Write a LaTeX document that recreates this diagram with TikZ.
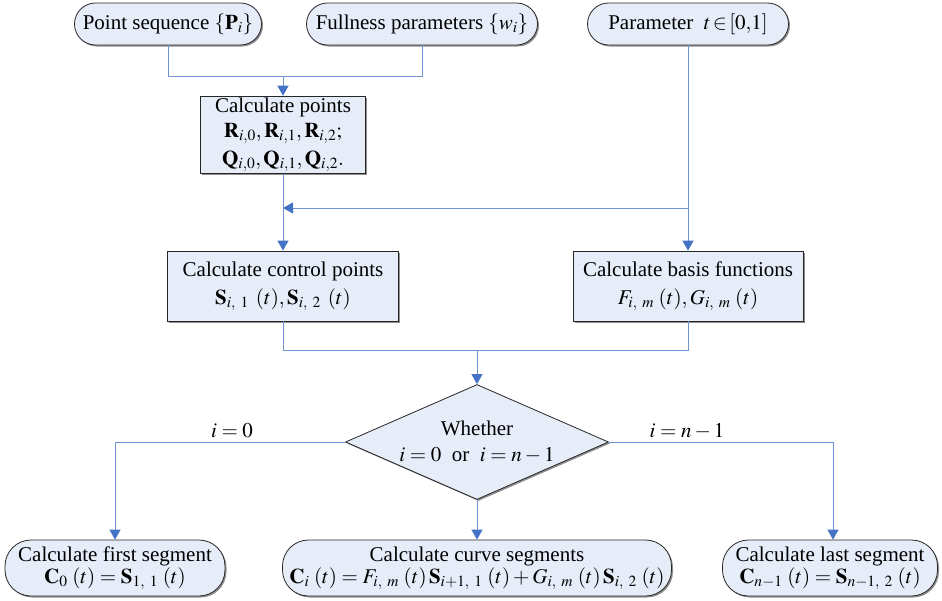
\documentclass[tikz,border=0pt]{standalone}
\usepackage{mathptmx}
\usepackage{fontspec}
\setmainfont{Liberation Serif}
\usetikzlibrary{shapes.geometric,arrows.meta,shadows}
\definecolor{boxfill}{RGB}{230,236,248}
\definecolor{linecol}{RGB}{110,145,210}
\definecolor{arrowcol}{RGB}{68,114,196}
\newcommand{\argt}{\mkern4mu(t)}
\newcommand{\sbc}{,\mkern6mu}
\begin{document}
\begin{tikzpicture}[x=1pt,y=-1pt,
  font=\fontsize{21}{26}\selectfont,
  base/.style={draw=black!85, fill=boxfill, line width=0.8pt, align=center, inner sep=2pt,
     drop shadow={shadow xshift=1.5pt, shadow yshift=-1.5pt, fill=black!55, opacity=0.8}},
  term/.style={base, rounded corners=21pt, minimum height=42pt},
  proc/.style={base, rectangle, minimum height=70pt},
  dec/.style={base, diamond, aspect=2.29, inner sep=0pt, minimum width=263pt, minimum height=115pt},
  line/.style={draw=linecol, line width=1pt},
  arr/.style={line, -{Triangle[width=11pt,length=10pt,fill=arrowcol,color=arrowcol]}},
  lab/.style={inner sep=1pt}]
\useasboundingbox (0,0) rectangle (942,600);

% top terminators
\node[term, minimum width=187pt] (ps) at (168,24) {Point sequence $\{\mathbf{P}_i\}$};
\node[term, minimum width=231pt] (fp) at (422,24) {Fullness parameters $\{w_i\}$};
\node[term, minimum width=201pt] (pt) at (688,24) {Parameter \ $t\!\in\![0{,}1]$};

% calculate points
\node[proc, minimum width=165pt, minimum height=76pt, font=\fontsize{21}{25}\selectfont] (cp) at (283,135)
  {Calculate points\\ $\mathbf{R}_{i,0},\mathbf{R}_{i,1},\mathbf{R}_{i,2};$\\[3pt] $\mathbf{Q}_{i,0},\mathbf{Q}_{i,1},\mathbf{Q}_{i,2}.$};

% control points & basis
\node[proc, minimum width=231pt] (cc) at (283,286)
  {Calculate control points\\[2pt] $\mathbf{S}_{i\sbc 1}\mkern6mu(t),\mathbf{S}_{i\sbc 2}\mkern6mu(t)$};
\node[proc, minimum width=230pt] (bf) at (688,286)
  {Calculate basis functions\\[2pt] $F_{i\sbc m}\argt,G_{i\sbc m}\argt$};

% decision
\node[dec] (dc) at (477,442) {Whether\\ $i=0$ \ or \ $i=n-1$};

% bottom terminators
\node[term, minimum width=220pt, minimum height=56pt, rounded corners=26pt] (fs) at (115,568)
  {Calculate first segment\\[-4pt] $\mathbf{C}_0\argt=\mathbf{S}_{1\sbc 1}\argt$};
\node[term, minimum width=389pt, minimum height=56pt, rounded corners=26pt] (cs) at (477,568)
  {Calculate curve segments\\[-4pt] $\mathbf{C}_i\argt=F_{i\sbc m}\argt\,\mathbf{S}_{i+1\sbc 1}\argt+G_{i\sbc m}\argt\,\mathbf{S}_{i\sbc 2}\argt$};
\node[term, minimum width=215pt, minimum height=56pt, rounded corners=26pt] (ls) at (830,568)
  {Calculate last segment\\[-4pt] $\mathbf{C}_{n-1}\argt=\mathbf{S}_{n-1\sbc 2}\argt$};

% junction coordinates
\coordinate (j1) at (168,76);
\coordinate (j2) at (422,76);
\coordinate (j3) at (283,76);
\coordinate (j4) at (688,208);
\coordinate (j5) at (283,208);
\coordinate (j6) at (283,350);
\coordinate (j7) at (688,350);
\coordinate (j8) at (477,350);
\coordinate (jl) at (115,442);
\coordinate (jr) at (833,442);

% connectors
\draw[line] (ps.south) -- (j1) -- (j2) -- (fp.south);
\draw[arr] (j3) -- (cp.north);
\draw[arr] (pt.south) -- (bf.north);
\draw[arr] (j4) -- (j5);
\draw[arr] (cp.south) -- (cc.north);
\draw[line] (cc.south) -- (j6) -- (j7) -- (bf.south);
\draw[arr] (j8) -- (dc.north);
\draw[arr] (dc.west) -- (jl) -- (jl |- fs.north);
\draw[arr] (dc.east) -- (jr) -- (jr |- ls.north);
\draw[arr] (dc.south) -- (cs.north);

% labels
\node[lab] (l0) at (232,431) {$i=0$};
\node[lab] (l1) at (687,431) {$i=n-1$};
\end{tikzpicture}
\end{document}
